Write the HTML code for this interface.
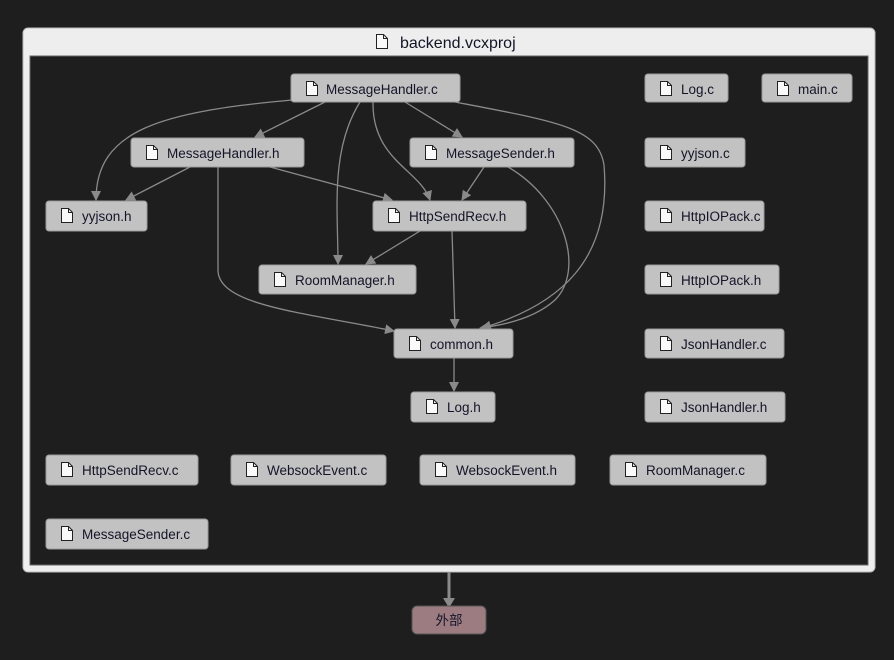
<!DOCTYPE html>
<html><head><meta charset="utf-8"><style>
html,body{margin:0;padding:0;background:#1e1e1e;width:894px;height:660px;overflow:hidden}
svg text{font-family:"Liberation Sans","Noto Sans CJK SC",sans-serif;font-size:13.5px;fill:#141428}
</style></head><body>
<svg width="894" height="660" xmlns="http://www.w3.org/2000/svg">
<defs>
<marker id="a" markerWidth="10" markerHeight="10" refX="9" refY="5" orient="auto" markerUnits="userSpaceOnUse"><path d="M0,0 L10,5 L0,10 z" fill="#8a8a8a"/></marker>
<g id="ic"><path d="M0.5,0.5 h7 l4 4 v10 h-11 z" fill="#fafafa" stroke="#222" stroke-width="1"/><path d="M7.5,0.5 v4 h4" fill="none" stroke="#222"/></g>
</defs>
<rect x="23" y="28" width="852" height="544" rx="5" fill="#eeeeee" stroke="#bbb"/>
<rect x="30" y="56" width="838" height="509" fill="#1e1e1e" stroke="#666"/>
<use href="#ic" x="376" y="34"/>
<text x="400" y="48" style="font-size:16px">backend.vcxproj</text>

<g fill="none" stroke="#8a8a8a" stroke-width="1.3" marker-end="url(#a)">
<path d="M292,100 C160,112 96,130 96,200"/>
<path d="M325,102 L255,137"/>
<path d="M405,102 L462,137"/>
<path d="M373,102 C372,160 420,170 430,200"/>
<path d="M360,102 C330,150 338,210 338,264"/>
<path d="M455,102 C560,122 598,128 604,165 C612,260 560,305 482,328"/>
<path d="M190,167 L126,200"/>
<path d="M270,167 L392,200"/>
<path d="M218,167 L218,270 C218,305 300,312 394,331"/>
<path d="M484,167 L462,200"/>
<path d="M508,167 C565,200 585,270 555,300 C535,318 505,325 480,328"/>
<path d="M420,231 L366,264"/>
<path d="M452,231 L455,328"/>
<path d="M454,358 L454,391"/>
</g>
<path d="M449,572 L449,600" stroke="#8a8a8a" stroke-width="3"/>
<path d="M443,598 L449,608 L455,598 z" fill="#8a8a8a"/>
<rect x="412" y="606" width="74" height="28" rx="5" fill="#9c7c80" stroke="#555"/>
<text x="449" y="625" text-anchor="middle">外部</text>

<g fill="#c2c2c2" stroke="#9a9a9a">
<rect x="291" y="74" width="169" height="28" rx="3"/>
<rect x="645" y="74" width="83" height="28" rx="3"/>
<rect x="762" y="74" width="90" height="28" rx="3"/>
<rect x="131" y="138" width="173" height="29" rx="3"/>
<rect x="410" y="138" width="164" height="29" rx="3"/>
<rect x="645" y="138" width="100" height="29" rx="3"/>
<rect x="46" y="201" width="101" height="30" rx="3"/>
<rect x="373" y="201" width="153" height="30" rx="3"/>
<rect x="645" y="201" width="119" height="30" rx="3"/>
<rect x="259" y="265" width="157" height="29" rx="3"/>
<rect x="645" y="265" width="134" height="29" rx="3"/>
<rect x="394" y="329" width="119" height="29" rx="3"/>
<rect x="645" y="329" width="139" height="29" rx="3"/>
<rect x="411" y="392" width="84" height="30" rx="3"/>
<rect x="645" y="392" width="140" height="30" rx="3"/>
<rect x="46" y="455" width="152" height="30" rx="3"/>
<rect x="231" y="455" width="155" height="30" rx="3"/>
<rect x="420" y="455" width="155" height="30" rx="3"/>
<rect x="610" y="455" width="156" height="30" rx="3"/>
<rect x="46" y="519" width="162" height="30" rx="3"/>
</g>
<use href="#ic" x="306" y="81"/><text x="326" y="94">MessageHandler.c</text>
<use href="#ic" x="660" y="81"/><text x="681" y="94">Log.c</text>
<use href="#ic" x="777" y="81"/><text x="798" y="94">main.c</text>
<use href="#ic" x="146" y="145"/><text x="167" y="158">MessageHandler.h</text>
<use href="#ic" x="425" y="145"/><text x="446" y="158">MessageSender.h</text>
<use href="#ic" x="660" y="145"/><text x="681" y="158">yyjson.c</text>
<use href="#ic" x="61" y="208"/><text x="82" y="221">yyjson.h</text>
<use href="#ic" x="388" y="208"/><text x="409" y="221">HttpSendRecv.h</text>
<use href="#ic" x="660" y="208"/><text x="681" y="221">HttpIOPack.c</text>
<use href="#ic" x="274" y="272"/><text x="295" y="285">RoomManager.h</text>
<use href="#ic" x="660" y="272"/><text x="681" y="285">HttpIOPack.h</text>
<use href="#ic" x="409" y="336"/><text x="430" y="349">common.h</text>
<use href="#ic" x="660" y="336"/><text x="681" y="349">JsonHandler.c</text>
<use href="#ic" x="426" y="399"/><text x="447" y="412">Log.h</text>
<use href="#ic" x="660" y="399"/><text x="681" y="412">JsonHandler.h</text>
<use href="#ic" x="61" y="462"/><text x="82" y="475">HttpSendRecv.c</text>
<use href="#ic" x="246" y="462"/><text x="267" y="475">WebsockEvent.c</text>
<use href="#ic" x="435" y="462"/><text x="456" y="475">WebsockEvent.h</text>
<use href="#ic" x="625" y="462"/><text x="646" y="475">RoomManager.c</text>
<use href="#ic" x="61" y="526"/><text x="82" y="539">MessageSender.c</text>
</svg>
</body></html>
